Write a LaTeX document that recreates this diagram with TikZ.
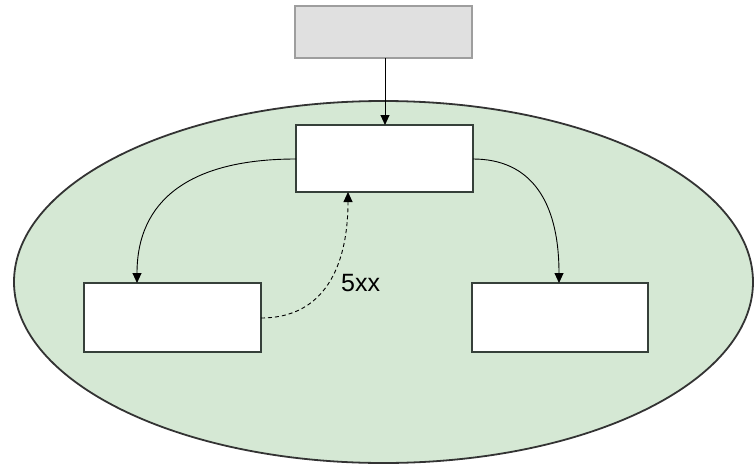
\documentclass[tikz,border=0pt]{standalone}
\usepackage{fontspec}
\setmainfont{Liberation Sans}
\usetikzlibrary{arrows.meta}
\definecolor{zonefill}{HTML}{D5E8D4}
\definecolor{zoneline}{HTML}{333333}
\definecolor{greyfill}{HTML}{E0E0E0}
\definecolor{greyline}{HTML}{9E9E9E}
\definecolor{boxline}{HTML}{36403A}
\tikzset{
  zone/.style={draw=zoneline, fill=zonefill, line width=1.8pt},
  greybox/.style={draw=greyline, fill=greyfill, line width=1.5pt},
  whitebox/.style={draw=boxline, fill=white, line width=1.8pt},
  link/.style={line width=0.9pt, -{Triangle[width=9pt,length=10pt]}},
  dashlink/.style={link, dashed, dash pattern=on 4pt off 3pt},
  lbl/.style={font=\fontsize{25}{28}\selectfont, inner sep=0pt, anchor=west}
}
\begin{document}
\begin{tikzpicture}[x=1pt,y=-1pt]
  \useasboundingbox (0,0) rectangle (755,466);
  % enclosing zone
  \draw[zone] (383.5,282) ellipse [x radius=369.5, y radius=181];
  % boxes
  \path[greybox] (295,6) rectangle (472,58);
  \coordinate (gb) at (385,58);
  \path[whitebox] (296,125) rectangle (473,192);
  \coordinate (topin) at (385,125);
  \coordinate (topL) at (296,159);
  \coordinate (topR) at (473,159);
  \coordinate (topB) at (348,192);
  \path[whitebox] (84,283) rectangle (261,352);
  \coordinate (leftT) at (137,283);
  \coordinate (leftR) at (261,318);
  \path[whitebox] (472,283) rectangle (648,352);
  \coordinate (rightT) at (559,283);
  % connectors
  \draw[link] (gb) -- (topin);
  \draw[link] (topL) .. controls (190,159) and (137,200) .. (leftT);
  \draw[link] (topR) .. controls (530,159) and (559,200) .. (rightT);
  \draw[dashlink] (leftR) .. controls (325,318) and (348,265) .. (topB);
  \node[lbl] (code) at (341,283) {5xx};
\end{tikzpicture}
\end{document}
